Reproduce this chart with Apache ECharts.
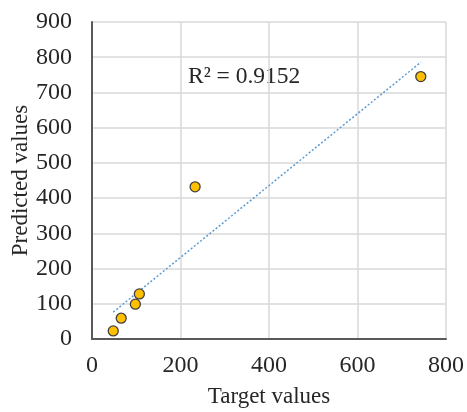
<!DOCTYPE html>
<html>
<head>
<meta charset="utf-8">
<script src="https://cdn.jsdelivr.net/npm/echarts@6/dist/echarts.min.js"></script>
<style>html,body{margin:0;padding:0;background:#fff;}#c{width:467px;height:412px;}</style>
</head>
<body>
<div id="c"></div>
<script>
var targetValues = [48, 66, 98, 107, 233, 743];
var predictedValues = [23, 59, 99, 128, 432, 745];
var xTicks = [0, 200, 400, 600, 800];
var yTicks = [0, 100, 200, 300, 400, 500, 600, 700, 800, 900];
var r2Label = 'R² = 0.9152';
var xTitle = 'Target values';
var yTitle = 'Predicted values';

var pts = targetValues.map(function (x, i) { return [x, predictedValues[i]]; });
var n = pts.length, mx = 0, my = 0;
pts.forEach(function (p) { mx += p[0]; my += p[1]; });
mx /= n; my /= n;
var sxx = 0, sxy = 0;
pts.forEach(function (p) { sxx += (p[0] - mx) * (p[0] - mx); sxy += (p[0] - mx) * (p[1] - my); });
var slope = sxy / sxx, icpt = my - slope * mx;
var x0 = Math.min.apply(null, targetValues), x1 = Math.max.apply(null, targetValues);
var trend = [[x0, icpt + slope * x0], [x1, icpt + slope * x1]];

var font = '"Liberation Serif", "Times New Roman", serif';
var chart = echarts.init(document.getElementById('c'));
chart.setOption({
  animation: false,
  grid: { left: 92, right: 21, top: 22, bottom: 73, containLabel: false, outerBoundsMode: 'none' },
  xAxis: {
    type: 'value', min: xTicks[0], max: xTicks[xTicks.length - 1], interval: 200,
    name: xTitle, nameLocation: 'middle', nameGap: 46, nameMoveOverlap: false,
    nameTextStyle: { fontFamily: font, fontSize: 23, color: '#262626' },
    axisLine: { show: true, lineStyle: { color: '#595959', width: 2 } },
    axisTick: { show: false },
    axisLabel: { fontFamily: font, fontSize: 24, color: '#262626', margin: 15 },
    splitLine: { show: true, lineStyle: { color: '#d9d9d9', width: 1.5 } }
  },
  yAxis: {
    type: 'value', min: yTicks[0], max: yTicks[yTicks.length - 1], interval: 100,
    name: yTitle, nameLocation: 'middle', nameGap: 60, nameMoveOverlap: false,
    nameTextStyle: { fontFamily: font, fontSize: 23, color: '#262626' },
    axisLine: { show: true, lineStyle: { color: '#595959', width: 2 } },
    axisTick: { show: false },
    axisLabel: { fontFamily: font, fontSize: 24, color: '#262626', margin: 20 },
    splitLine: { show: true, lineStyle: { color: '#d9d9d9', width: 1.5 } }
  },
  graphic: [{
    type: 'text', left: 188, top: 65,
    style: { text: r2Label, font: '23.5px ' + font, fill: '#262626' }
  }],
  series: [
    {
      type: 'line', data: trend, showSymbol: false, symbol: 'none',
      lineStyle: { color: '#5B9BD5', width: 1.5, type: [2, 2] }, z: 2
    },
    {
      type: 'scatter', data: pts, symbolSize: 10,
      itemStyle: { color: '#FFC000', borderColor: '#404040', borderWidth: 1.3, opacity: 1 }, z: 3
    }
  ]
});
</script>
</body>
</html>
